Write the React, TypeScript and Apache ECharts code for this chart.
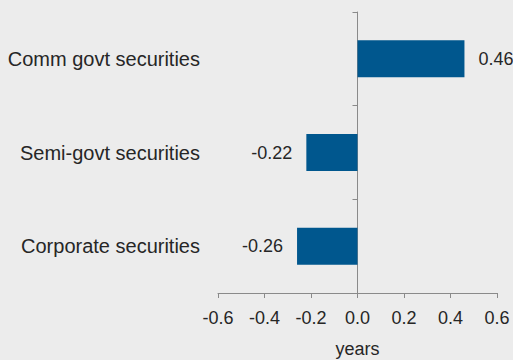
import React, { useEffect, useRef } from "react";
import * as echarts from "echarts";

const categories = ["Corporate securities", "Semi-govt securities", "Comm govt securities"];
const values = [-0.26, -0.22, 0.46];
const xTicks = { min: -0.6, max: 0.6, interval: 0.2 };
const xName = "years";

const FONT = "'Liberation Sans', Arial, sans-serif";
const AXIS = "#8a8a8a";
const TEXT = "#262626";

export default function App() {
  const ref = useRef<HTMLDivElement>(null);
  useEffect(() => {
    if (!ref.current) return;
    const chart = echarts.init(ref.current, null, { renderer: "svg" });
    chart.setOption({
      animation: false,
      backgroundColor: "#ececec",
      textStyle: { fontFamily: FONT },
      grid: {
        left: 218,
        right: 16,
        top: 12,
        bottom: 67,
        containLabel: false,
        outerBoundsMode: "none",
      },
      xAxis: {
        type: "value",
        min: xTicks.min,
        max: xTicks.max,
        interval: xTicks.interval,
        name: xName,
        nameLocation: "middle",
        nameGap: 47,
        nameTextStyle: { fontFamily: FONT, fontSize: 18, color: TEXT, lineHeight: 18 },
        axisLine: { show: true, onZero: false, lineStyle: { color: AXIS, width: 1 } },
        axisTick: { show: true, length: 5, lineStyle: { color: AXIS } },
        splitLine: { show: false },
        axisLabel: {
          fontFamily: FONT,
          fontSize: 18,
          color: TEXT,
          margin: 16,
          formatter: (v: number) => v.toFixed(1),
        },
      },
      yAxis: [
        {
          type: "category",
          data: categories,
          position: "left",
          axisLine: { show: false, onZero: false },
          axisTick: { show: false },
          axisLabel: { fontFamily: FONT, fontSize: 20, color: TEXT, margin: 18 },
        },
        {
          type: "category",
          data: categories,
          position: "left",
          axisLine: { show: true, onZero: true, lineStyle: { color: AXIS, width: 1 } },
          axisTick: { show: true, length: 5, lineStyle: { color: AXIS } },
          axisLabel: { show: false },
        },
      ],
      series: [
        {
          type: "bar",
          yAxisIndex: 0,
          barWidth: 37,
          itemStyle: { color: "#00578e" },
          data: values.map((v) => ({
            value: v,
            label: {
              show: true,
              position: v < 0 ? "left" : "right",
              distance: 14,
              fontFamily: FONT,
              fontSize: 18,
              color: TEXT,
              formatter: (p: any) => p.value.toFixed(2),
            },
          })),
        },
      ],
    });
    return () => chart.dispose();
  }, []);
  return (
    <div
      ref={ref}
      style={{ position: "fixed", left: 0, top: 0, width: 513, height: 360, background: "#ececec" }}
    />
  );
}
